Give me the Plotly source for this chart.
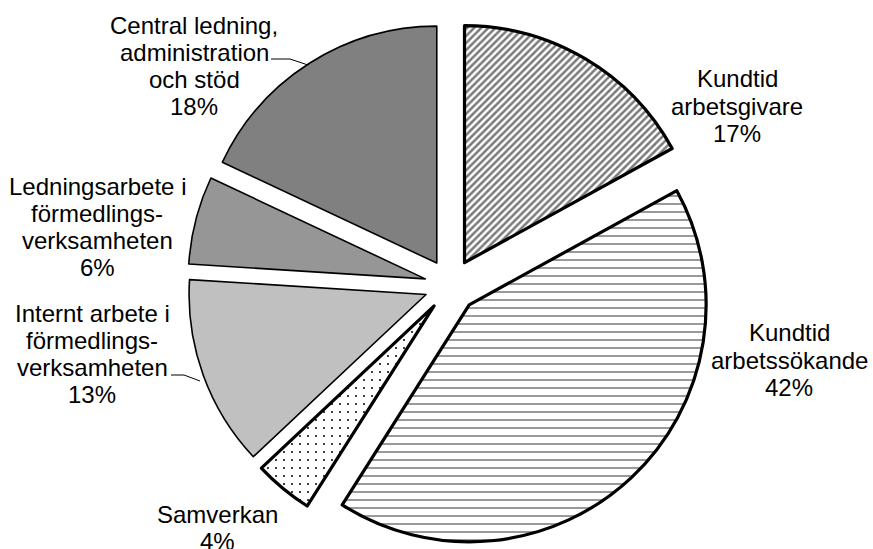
import plotly.graph_objects as go

# ---- data ----
categories = [
    "Kundtid arbetsgivare",
    "Kundtid arbetssökande",
    "Samverkan",
    "Internt arbete i förmedlingsverksamheten",
    "Ledningsarbete i förmedlingsverksamheten",
    "Central ledning, administration och stöd",
]
values = [17, 42, 4, 13, 6, 18]
label_lines = [
    ["Kundtid", "arbetsgivare"],
    ["Kundtid", "arbetssökande"],
    ["Samverkan"],
    ["Internt arbete i", "förmedlings-", "verksamheten"],
    ["Ledningsarbete i", "förmedlings-", "verksamheten"],
    ["Central ledning,", "administration", "och stöd"],
]

# ---- styles ----
W, H = 873, 549
fill_colors = ["white", "white", "white", "#c0c0c0", "#969696", "#808080"]
line_widths = [3.2, 3.2, 3.2, 1.6, 1.6, 1.6]
pat_shapes = ["/", "-", ".", "", "", ""]
pat_fg = ["#7a7a7a", "#808080", "black", "black", "black", "black"]
pat_bg = ["white", "white", "white", "#c0c0c0", "#969696", "#808080"]
pat_size = [5, 8, 8, 8, 8, 8]
pat_sol = [0.5, 0.2, 0.05, 0.3, 0.3, 0.3]
pull = 0.112
FONT_SIZE = 24
LINE_GAP = 27.3

# label block centres in pixels (x, y)
label_pos = [(737, 106), (789, 360), (217, 528), (92, 354), (97, 227), (194, 66)]

CX, CY_TOP = 451, 22  # pie box centre x, box top (px)
BOX = 549 - CY_TOP

fig = go.Figure()
fig.add_trace(go.Pie(
    values=values,
    labels=categories,
    sort=False,
    direction="clockwise",
    rotation=0,
    pull=[pull] * len(values),
    textinfo="none",
    showlegend=False,
    marker=dict(
        colors=fill_colors,
        line=dict(color="black", width=line_widths),
        pattern=dict(shape=pat_shapes, fgcolor=pat_fg, bgcolor=pat_bg,
                     size=pat_size, solidity=pat_sol, fillmode="replace"),
    ),
    domain=dict(x=[(CX - BOX / 2) / W, (CX + BOX / 2) / W], y=[0, BOX / H]),
))

total = sum(values)
for lines, v, (px, py) in zip(label_lines, values, label_pos):
    all_lines = lines + [f"{round(100 * v / total)}%"]
    n = len(all_lines)
    for i, line in enumerate(all_lines):
        ly = py + (i - (n - 1) / 2) * LINE_GAP
        fig.add_annotation(
            x=px / W, y=1 - ly / H, xref="paper", yref="paper",
            text=line, showarrow=False, xanchor="center", yanchor="middle",
            align="center",
            font=dict(family="Liberation Sans, Arial", size=FONT_SIZE, color="black"),
        )

# leader lines (pixel paths)
def px_path(pts):
    s = ""
    for i, (x, y) in enumerate(pts):
        s += ("M" if i == 0 else "L") + f"{x / W},{1 - y / H} "
    return s.strip()

leaders = [
    [(271, 59), (290, 59), (308, 65)],
    [(171, 375), (184, 375), (200, 381)],
]
for pts in leaders:
    fig.add_shape(type="path", path=px_path(pts), xref="paper", yref="paper",
                  line=dict(color="black", width=1))

fig.update_layout(
    width=W, height=H,
    margin=dict(l=0, r=0, t=0, b=0),
    paper_bgcolor="white", plot_bgcolor="white",
)
fig.write_html("out.html")
